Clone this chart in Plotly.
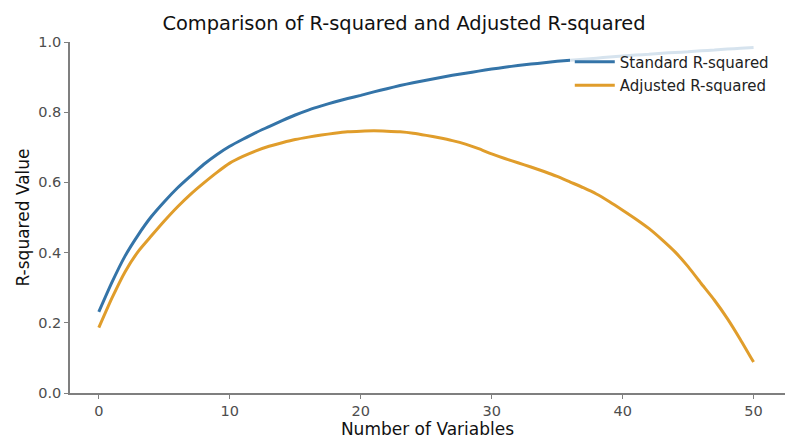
import plotly.graph_objects as go

# number of variables in the model
num_vars = list(range(0, 51))

# values
r2_standard = [
    0.231, 0.315, 0.390, 0.450, 0.502, 0.545, 0.584, 0.618, 0.651, 0.679,
    0.703, 0.723, 0.742, 0.759, 0.776, 0.792, 0.806, 0.818, 0.829, 0.839,
    0.848, 0.858, 0.867, 0.876, 0.884, 0.891, 0.898, 0.905, 0.911, 0.917,
    0.923, 0.928, 0.933, 0.937, 0.941, 0.945, 0.948, 0.951, 0.954, 0.957,
    0.960, 0.963, 0.965, 0.968, 0.970, 0.972, 0.975, 0.977, 0.980, 0.982,
    0.984,
]
r2_adjusted = [
    0.186, 0.270, 0.345, 0.403, 0.447, 0.490, 0.530, 0.566, 0.598, 0.628,
    0.655, 0.674, 0.690, 0.703, 0.713, 0.722, 0.729, 0.735, 0.740, 0.744,
    0.746, 0.747, 0.746, 0.744, 0.740, 0.734, 0.727, 0.719, 0.709, 0.696,
    0.681, 0.668, 0.656, 0.644, 0.631, 0.617, 0.601, 0.585, 0.567, 0.545,
    0.521, 0.496, 0.469, 0.437, 0.402, 0.360, 0.312, 0.265, 0.212, 0.152,
    0.088,
]

blue = "#3474a8"
orange = "#e09d2b"
axis_grey = "#7f7f7f"
font_family = "DejaVu Sans"

fig = go.Figure()

fig.add_trace(go.Scatter(
    x=num_vars, y=r2_standard,
    mode="lines",
    line=dict(color=blue, width=3, shape="spline", smoothing=0.5),
    name="Standard R-squared",
    legendgroup="std"
))
fig.add_trace(go.Scatter(
    x=num_vars, y=r2_adjusted,
    mode="lines",
    line=dict(color=orange, width=3, shape="spline", smoothing=0.5),
    name="Adjusted R-squared",
    legendgroup="adj"
))

# the page body has an 8px margin, so the figure is 8px smaller each way
fig.update_layout(
    width=792, height=439,
    margin=dict(l=62, r=15, t=34, b=54),
    paper_bgcolor="white",
    plot_bgcolor="white",
    font=dict(family=font_family, size=14, color="#222222"),
    title=dict(
        text="Comparison of R-squared and Adjusted R-squared",
        x=0.5, xanchor="center", y=0.966, yanchor="middle",
        font=dict(size=19.4, color="#111111")
    ),
    legend=dict(
        x=0.699, xanchor="left",
        y=0.99, yanchor="top",
        bgcolor="rgba(255,255,255,0.8)",
        borderwidth=0,
        font=dict(size=15, color="#222222"),
        itemwidth=40,
        tracegroupgap=1
    ),
    showlegend=True
)

fig.update_xaxes(
    range=[-2.2, 52.4],
    tickvals=[0, 10, 20, 30, 40, 50],
    showgrid=False, zeroline=False,
    showline=True, linecolor=axis_grey, linewidth=1.5,
    ticks="outside", ticklen=4, tickcolor=axis_grey, tickwidth=1.2,
    tickfont=dict(size=14.5, color="#4d4d4d"),
    title=dict(text="Number of Variables", font=dict(size=17, color="#111111"), standoff=2)
)
fig.update_yaxes(
    range=[0, 1.0],
    tickvals=[0, 0.2, 0.4, 0.6, 0.8, 1.0],
    tickformat=".1f",
    showgrid=False, zeroline=False,
    showline=True, linecolor=axis_grey, linewidth=1.5,
    ticks="outside", ticklen=4, tickcolor=axis_grey, tickwidth=1.2,
    tickfont=dict(size=14.5, color="#4d4d4d"),
    title=dict(text="R-squared Value", font=dict(size=17, color="#111111"), standoff=4)
)

fig.write_html("out.html")
